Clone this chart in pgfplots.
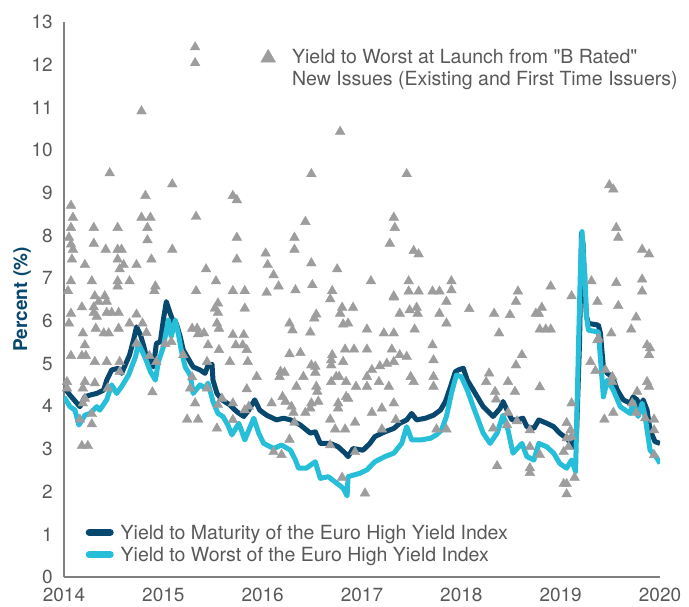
\documentclass[border=0pt]{standalone}
\usepackage{fontspec}
\setmainfont{TeX Gyre Heros}
\newfontfamily\plainq{TeX Gyre Heros}
\usepackage{pgfplots}
\pgfplotsset{compat=1.18}
\definecolor{navy}{RGB}{8,72,110}
\definecolor{cyanl}{RGB}{38,190,216}
\definecolor{trigray}{RGB}{157,157,157}
\definecolor{txtgray}{RGB}{89,89,89}
\definecolor{axgray}{RGB}{128,128,128}
\begin{document}
\begin{tikzpicture}
\useasboundingbox (-64pt,-29pt) rectangle (625pt,577pt);
\begin{axis}[
  at={(0,0)}, anchor=south west, scale only axis, width=596pt, height=555pt,
  xmin=2014, xmax=2020, ymin=0, ymax=13,
  axis x line=bottom, axis y line=left,
  axis line style={-, draw=axgray, line width=1.3pt},
  xtick={2014,2015,2016,2017,2018,2019,2020},
  xticklabels={2014,2015,2016,2017,2018,2019,2020},
  ytick={0,1,2,3,4,5,6,7,8,9,10,11,12,13},
  yticklabels={0,1,2,3,4,5,6,7,8,9,10,11,12,13},
  major tick length=0pt,
  tick label style={font=\fontsize{19}{22}\selectfont, text=txtgray},
  yticklabel style={inner sep=0pt, xshift=-11pt, text height=13.5pt, text depth=0pt, yshift=0pt},
  xticklabel style={inner sep=0pt, yshift=-10.5pt},
  ylabel={\textbf{Percent (\%)}},
  ylabel style={font=\fontsize{19}{22}\selectfont, text=navy, at={(axis description cs:-0.0705,0.5)}, anchor=center},
  legend cell align=left,
  legend style={draw=none, fill=none, inner sep=0pt, at={(axis description cs:0.0361,0.0932)}, anchor=north west,
    font=\fontsize{19.5}{22}\selectfont, text=txtgray, row sep=8pt, column sep=7pt,
    nodes={inner sep=0pt, text height=14pt, text depth=0pt}},
  legend image code/.code={\draw[#1, line width=7pt, line cap=round] (0pt,0pt) -- (21pt,0pt);},
]
\addplot[navy, line width=5pt, line join=round] coordinates {
(2014.00,4.45)(2014.06,4.26)(2014.16,3.99)(2014.21,4.22)(2014.26,4.26)(2014.33,4.30)(2014.40,4.38)(2014.43,4.61)(2014.48,4.85)(2014.55,4.89)(2014.58,4.77)(2014.63,5.04)(2014.66,5.20)(2014.70,5.55)(2014.73,5.86)(2014.77,5.67)(2014.80,5.43)(2014.83,5.16)(2014.87,5.12)(2014.90,4.92)(2014.93,5.47)(2014.97,5.51)(2015.00,6.02)(2015.03,6.45)(2015.07,6.17)(2015.10,5.98)(2015.13,5.94)(2015.17,5.63)(2015.20,5.32)(2015.25,5.12)(2015.30,4.92)(2015.37,4.85)(2015.42,4.77)(2015.45,4.96)(2015.49,4.98)(2015.50,4.61)(2015.54,4.30)(2015.59,4.15)(2015.67,4.03)(2015.74,3.87)(2015.81,3.76)(2015.86,3.91)(2015.92,4.15)(2015.97,3.91)(2016.04,3.79)(2016.14,3.68)(2016.21,3.72)(2016.28,3.68)(2016.38,3.56)(2016.48,3.37)(2016.53,3.40)(2016.58,3.13)(2016.68,3.13)(2016.76,3.05)(2016.83,2.90)(2016.86,2.82)(2016.91,3.01)(2017.01,2.97)(2017.08,3.13)(2017.13,3.29)(2017.23,3.40)(2017.32,3.48)(2017.38,3.60)(2017.45,3.68)(2017.50,3.83)(2017.55,3.68)(2017.64,3.72)(2017.72,3.79)(2017.79,3.91)(2017.84,4.11)(2017.89,4.45)(2017.94,4.81)(2017.97,4.85)(2018.02,4.89)(2018.06,4.61)(2018.12,4.38)(2018.22,3.99)(2018.32,3.76)(2018.39,3.95)(2018.42,4.11)(2018.46,3.91)(2018.51,3.68)(2018.56,3.68)(2018.62,3.72)(2018.66,3.52)(2018.73,3.48)(2018.78,3.68)(2018.86,3.60)(2018.93,3.52)(2018.99,3.37)(2019.06,3.25)(2019.13,3.05)(2019.16,3.37)(2019.19,5.50)(2019.21,8.05)(2019.225,7.80)(2019.24,6.90)(2019.26,6.10)(2019.28,5.94)(2019.38,5.90)(2019.40,5.71)(2019.43,4.92)(2019.47,4.77)(2019.52,4.69)(2019.57,4.38)(2019.63,4.15)(2019.70,4.07)(2019.73,4.22)(2019.77,4.15)(2019.80,3.91)(2019.83,4.15)(2019.87,3.91)(2019.90,3.44)(2019.95,3.17)(2020.00,3.13)
};
\addlegendentry{Yield to Maturity of the Euro High Yield Index}
\addplot[cyanl, line width=5pt, line join=round] coordinates {
(2014.00,4.22)(2014.06,3.99)(2014.11,3.91)(2014.15,3.56)(2014.21,3.79)(2014.26,3.83)(2014.33,3.99)(2014.36,3.91)(2014.43,4.15)(2014.48,4.50)(2014.53,4.30)(2014.58,4.46)(2014.65,4.73)(2014.72,5.16)(2014.75,5.47)(2014.78,5.32)(2014.82,5.12)(2014.87,4.81)(2014.92,4.61)(2014.95,5.04)(2015.00,5.39)(2015.05,6.02)(2015.08,5.63)(2015.12,6.02)(2015.15,5.71)(2015.18,5.32)(2015.22,4.92)(2015.27,4.73)(2015.30,4.30)(2015.37,4.50)(2015.42,4.42)(2015.45,4.54)(2015.50,4.11)(2015.55,3.83)(2015.60,3.76)(2015.65,3.56)(2015.69,3.33)(2015.76,3.60)(2015.82,3.21)(2015.91,3.72)(2015.96,3.37)(2016.01,3.13)(2016.11,3.01)(2016.19,3.09)(2016.28,2.97)(2016.33,2.74)(2016.36,2.55)(2016.44,2.55)(2016.53,2.70)(2016.58,2.31)(2016.66,2.35)(2016.75,2.19)(2016.81,2.08)(2016.85,1.90)(2016.86,2.35)(2016.98,2.43)(2017.05,2.51)(2017.13,2.70)(2017.23,2.82)(2017.32,2.90)(2017.40,3.13)(2017.45,3.52)(2017.50,3.21)(2017.59,3.21)(2017.69,3.25)(2017.75,3.33)(2017.80,3.44)(2017.85,3.76)(2017.90,4.30)(2017.95,4.73)(2018.00,4.69)(2018.06,4.38)(2018.12,3.99)(2018.22,3.37)(2018.29,3.13)(2018.36,3.37)(2018.42,3.79)(2018.47,3.44)(2018.52,2.90)(2018.61,3.13)(2018.66,2.82)(2018.73,2.74)(2018.78,3.13)(2018.86,3.05)(2018.93,2.90)(2018.99,2.66)(2019.06,2.55)(2019.11,2.74)(2019.15,2.47)(2019.18,5.47)(2019.20,7.30)(2019.215,8.09)(2019.23,7.50)(2019.245,7.03)(2019.26,6.10)(2019.28,5.78)(2019.38,5.74)(2019.43,4.22)(2019.47,4.61)(2019.53,4.38)(2019.60,3.99)(2019.70,3.83)(2019.73,4.11)(2019.78,3.76)(2019.82,4.07)(2019.85,3.76)(2019.90,2.97)(2019.96,2.82)(2020.00,2.66)
};
\addlegendentry{Yield to Worst of the Euro High Yield Index}
\end{axis}
\begin{axis}[
  at={(0,0)}, anchor=south west, scale only axis, width=596pt, height=555pt,
  xmin=2014, xmax=2020, ymin=0, ymax=13, hide axis,
  legend cell align=left,
  legend style={draw=none, fill=none, inner sep=0pt, at={(axis description cs:0.3299,0.951)}, anchor=north west,
    font=\fontsize{19.5}{22}\selectfont, text=txtgray, row sep=8pt, column sep=16.6pt,
    nodes={inner sep=0pt, text height=14pt, text depth=0pt}},
  legend image code/.code={\draw[#1, mark size=8.5pt, yshift=-1.5pt] plot coordinates {(0pt,0pt)};},
]
\addplot[only marks, mark=triangle*, mark size=5.6pt, color=trigray] coordinates {
(2015.32,12.41)(2015.32,12.04)(2014.78,10.91)(2016.78,10.43)(2014.46,9.46)(2016.49,9.44)(2017.45,9.44)
(2014.07,8.70)(2014.09,8.42)(2014.07,8.18)(2014.05,7.95)(2014.07,7.79)(2014.09,7.67)(2014.08,7.44)(2014.07,6.93)(2014.04,6.70)(2014.21,7.31)(2014.30,8.18)(2014.30,7.81)(2014.28,6.93)(2014.31,6.58)(2014.41,6.58)(2014.42,7.67)(2014.54,8.18)(2014.54,7.67)(2014.58,7.67)(2014.54,7.44)(2014.56,7.21)(2014.60,7.31)(2014.54,6.93)(2014.54,6.81)(2014.66,6.93)(2014.73,7.31)(2014.78,8.42)(2014.87,8.42)(2014.82,8.93)(2014.84,8.18)(2014.84,7.89)(2014.88,7.44)(2014.92,6.81)(2014.91,6.70)(2015.09,9.20)(2015.09,7.67)(2015.33,8.44)(2015.33,6.70)(2015.43,7.21)(2015.53,6.93)(2015.70,8.93)(2015.74,8.83)(2015.74,7.95)(2015.74,7.44)(2015.70,6.70)(2015.82,6.70)(2016.03,7.58)(2016.05,7.31)(2016.11,7.07)(2016.16,6.81)(2016.04,6.66)(2016.32,7.95)(2016.32,7.67)(2016.33,6.72)(2016.43,8.32)(2016.49,7.35)(2016.50,6.84)(2016.70,6.70)(2016.75,7.21)
(2017.32,8.42)(2017.33,8.18)(2017.28,7.81)(2017.52,7.64)(2017.57,7.56)(2017.09,6.93)(2017.47,6.93)(2017.47,6.69)(2017.57,6.69)(2017.71,6.69)(2017.78,6.69)(2017.90,6.93)(2017.90,6.72)(2017.32,6.58)(2018.57,6.69)(2018.90,6.81)(2019.11,6.58)(2019.49,9.18)(2019.53,9.08)(2019.56,8.18)(2019.58,7.95)(2019.82,7.67)(2019.89,7.56)(2019.31,6.93)(2019.56,6.89)(2019.82,6.97)(2019.82,6.69)
(2014.35,6.45)(2014.43,6.45)(2014.18,6.32)(2014.30,6.32)(2014.30,6.19)(2014.33,6.10)(2014.43,6.19)(2014.48,6.19)(2014.55,6.19)(2014.07,6.17)(2014.05,5.94)(2014.73,6.15)(2014.66,5.94)(2014.79,5.94)(2014.32,5.82)(2014.55,5.82)(2014.19,5.71)(2014.40,5.71)(2014.45,5.71)(2014.83,5.72)(2015.29,5.82)(2015.34,5.82)(2015.35,5.69)(2015.41,5.71)(2015.52,6.29)(2015.55,6.41)(2015.55,6.19)(2015.54,5.94)(2015.56,5.82)(2015.82,6.29)(2015.70,5.67)(2015.81,5.67)
(2016.68,6.51)(2016.80,6.31)(2016.91,6.31)(2016.78,6.17)(2016.54,6.15)(2016.52,6.06)(2016.27,5.94)(2016.30,5.78)(2016.48,5.73)(2016.81,5.92)(2016.86,5.94)(2017.05,5.80)(2017.22,5.71)(2017.32,5.71)(2017.32,6.55)(2017.85,6.45)(2017.38,6.17)(2017.48,6.25)(2017.55,6.31)(2017.56,6.17)(2017.78,6.17)(2017.85,5.94)(2017.53,5.80)
(2018.08,6.28)(2018.33,6.17)(2018.38,5.71)(2018.49,6.14)(2018.55,6.45)(2018.81,6.31)(2018.75,6.17)(2018.78,6.17)(2018.79,5.80)(2018.85,5.80)(2018.90,5.80)(2019.37,6.45)(2019.58,6.35)(2019.76,6.08)(2019.71,5.80)(2019.51,5.71)(2019.38,5.59)
(2014.21,5.43)(2014.07,5.18)(2014.18,5.18)(2014.22,5.18)(2014.31,5.04)(2014.43,5.04)(2014.56,5.04)(2014.73,5.47)(2014.86,5.18)(2014.93,5.04)(2014.56,4.81)(2014.03,4.57)(2014.03,4.42)(2014.21,4.57)(2014.31,4.54)(2014.19,4.42)(2014.44,4.42)(2014.21,4.18)(2014.19,4.07)(2014.16,3.69)(2014.28,3.82)(2014.28,3.58)(2014.18,3.07)(2014.24,3.07)(2014.89,4.33)(2015.02,5.46)(2015.08,5.51)(2015.20,5.20)(2015.45,5.43)(2015.56,5.32)(2015.44,5.04)(2015.67,5.04)(2015.85,5.04)(2015.73,5.43)(2015.80,5.43)(2015.84,5.32)(2015.29,4.68)(2015.27,4.42)(2015.44,4.42)(2015.32,4.07)(2015.24,3.69)(2015.35,3.69)(2015.54,3.48)(2015.59,4.18)(2015.55,4.03)(2015.70,4.07)(2015.70,3.68)(2015.84,4.40)(2015.82,3.91)(2015.86,3.99)(2015.94,4.69)
(2016.27,5.22)(2016.38,5.25)(2016.70,5.20)(2016.83,5.33)(2016.92,5.33)(2017.05,5.33)(2017.30,5.33)(2017.38,5.20)(2017.45,5.16)(2017.71,5.43)(2016.69,5.08)(2016.69,4.96)(2016.81,5.04)(2017.72,5.08)(2016.49,4.96)(2016.53,4.93)(2016.53,4.79)(2016.18,4.81)(2016.22,4.79)(2016.17,4.69)(2016.41,4.69)(2017.10,4.85)(2017.18,4.94)(2017.25,5.00)(2017.32,5.04)(2016.69,4.57)(2016.74,4.69)(2016.77,4.69)(2016.84,4.57)(2017.05,4.69)(2017.05,4.46)(2017.17,4.57)(2017.27,4.46)(2017.49,4.69)(2017.52,4.57)(2017.72,4.69)(2017.72,4.46)(2016.34,4.46)(2016.54,4.46)(2016.55,4.34)(2016.94,4.46)(2016.84,4.22)(2016.86,4.18)(2016.20,4.22)(2016.23,4.11)(2016.09,4.07)(2016.49,4.07)(2016.56,4.11)(2016.76,4.07)(2016.76,3.95)(2016.29,3.99)(2016.31,3.85)(2016.43,3.85)(2016.48,3.95)(2017.10,3.85)(2017.20,3.95)(2017.32,4.07)(2016.68,3.69)(2016.93,3.62)(2016.73,3.46)(2016.83,3.46)(2017.20,3.46)(2017.75,3.46)(2017.85,3.46)(2016.32,3.62)(2016.27,3.22)(2016.11,2.93)(2016.19,2.86)(2016.68,3.09)(2016.93,2.93)(2016.80,2.33)(2017.03,1.96)(2017.34,3.68)
(2018.61,5.20)(2018.55,4.96)(2018.28,4.77)(2018.25,4.57)(2018.47,4.57)(2018.54,4.34)(2018.79,4.45)(2018.34,4.34)(2018.35,4.16)(2018.47,3.85)(2018.56,3.65)(2018.46,3.56)(2018.32,3.48)(2018.69,3.44)(2018.69,3.05)(2018.79,2.86)(2018.36,2.60)(2018.69,2.55)(2018.69,2.44)(2019.11,4.07)(2019.06,3.61)(2019.10,3.44)(2019.06,3.25)(2019.11,3.29)(2019.03,2.93)(2019.08,3.05)(2019.14,2.33)(2019.03,2.18)(2019.06,2.18)(2019.06,1.94)(2019.30,5.04)(2019.35,4.83)(2019.37,5.55)(2019.45,4.85)(2019.52,4.69)(2019.52,4.57)(2019.44,3.69)(2019.53,3.85)(2019.87,5.43)(2019.90,5.36)(2019.89,5.20)(2019.87,4.57)(2019.89,4.46)(2019.77,4.34)(2019.72,4.07)(2019.76,3.85)(2019.85,3.72)(2019.94,3.69)(2019.94,3.44)(2019.94,2.86)
};
\addlegendentry{Yield to Worst at Launch from {\plainq"}B Rated{\plainq"}}
\addlegendimage{empty legend}
\addlegendentry{New Issues (Existing and First Time Issuers)}
\end{axis}
\end{tikzpicture}
\end{document}
